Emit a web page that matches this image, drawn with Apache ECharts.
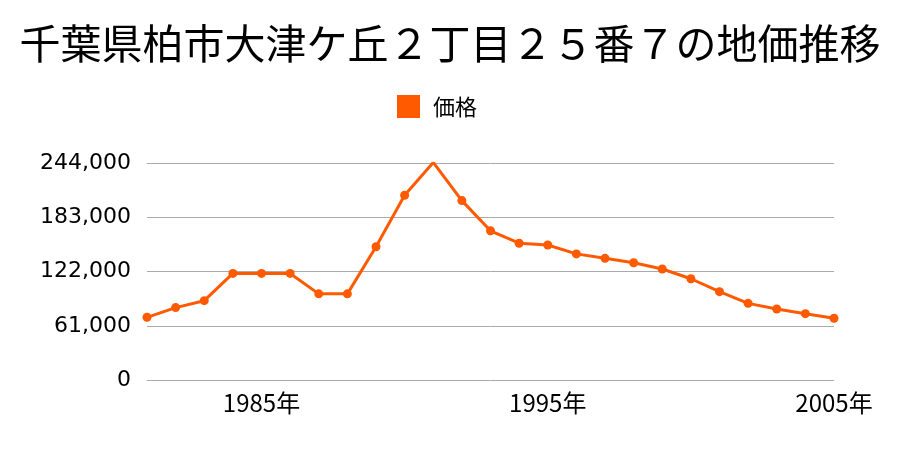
<!DOCTYPE html>
<html><head><meta charset="utf-8">
<script src="https://cdn.jsdelivr.net/npm/echarts@6/dist/echarts.min.js"></script>
<style>html,body{margin:0;padding:0;background:#fff}#c{width:900px;height:450px}</style>
</head><body><div id="c"></div>
<script>
const titleText = "千葉県柏市大津ケ丘２丁目２５番７の地価推移";
const seriesName = "価格";
const years = ["1981","1982","1983","1984","1985","1986","1987","1988","1989","1990","1991","1992","1993","1994","1995","1996","1997","1998","1999","2000","2001","2002","2003","2004","2005"];
const prices = [70600,81500,89300,120000,120000,120000,97000,97000,150000,208000,245000,202000,168000,154000,152000,142000,137000,132000,125000,114000,99500,86300,80000,74700,69500];
const yTicks = [0,61000,122000,183000,244000];
const shownYears = ["1985","1995","2005"];

const chart = echarts.init(document.getElementById('c'));
const font = '"Noto Sans CJK JP","Noto Sans",sans-serif';
chart.setOption({
  animation:false,
  title:{text:titleText,left:'center',top:18,textStyle:{fontFamily:font,fontSize:41,fontWeight:'normal',color:'#000'}},
  legend:{data:[seriesName],top:95,left:397,padding:0,itemWidth:23,itemHeight:23,icon:'rect',
    textStyle:{fontFamily:font,fontSize:22,color:'#000',padding:[0,0,0,8]}},
  grid:{left:147,right:66,top:163.3,bottom:70,containLabel:false},
  xAxis:{type:'category',data:years,boundaryGap:false,
    axisLine:{show:false},axisTick:{show:false},
    axisLabel:{interval:(i,v)=>shownYears.includes(v),formatter:v=>v+'年',fontFamily:font,fontSize:24,color:'#000',margin:11}},
  yAxis:{type:'value',min:yTicks[0],max:yTicks[yTicks.length-1],interval:61000,
    axisLine:{show:false},axisTick:{show:false},
    splitLine:{lineStyle:{color:'#aaa',width:1}},
    axisLabel:{formatter:v=>v.toLocaleString('en-US'),fontFamily:'"DejaVu Sans",sans-serif',fontSize:22,color:'#000',margin:16}},
  series:[{name:seriesName,type:'line',data:prices,color:'#ff5a00',
    lineStyle:{width:3},symbol:'circle',symbolSize:9,itemStyle:{color:'#ff5a00'}}]
});
</script></body></html>
